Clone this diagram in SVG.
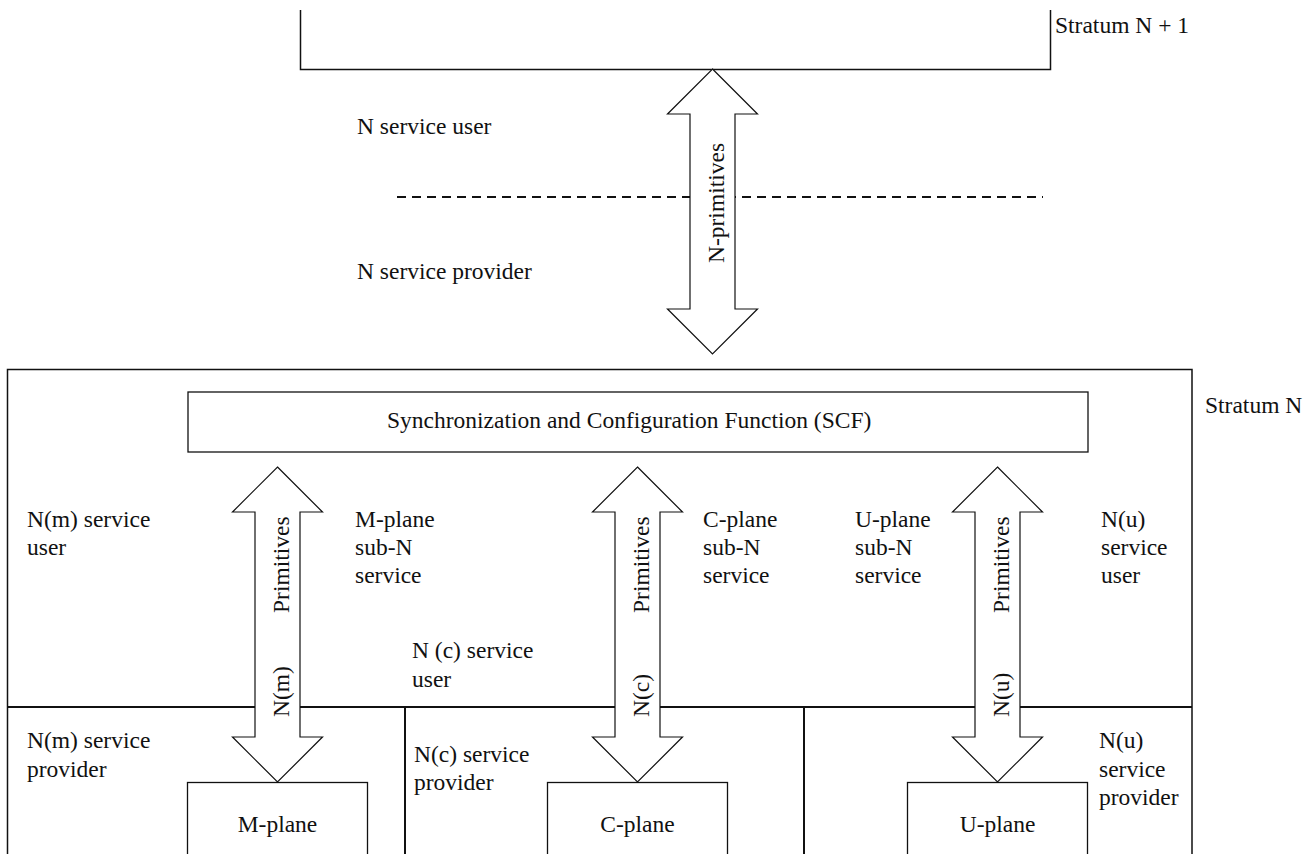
<svg xmlns="http://www.w3.org/2000/svg" width="1314" height="854" viewBox="0 0 1314 854">
  <style>
    text { font-family: "Liberation Serif", Tinos, "Times New Roman", Times, serif; font-size: 23.5px; fill: #111; }
    .box { fill: #fff; stroke: #111; stroke-width: 1.3; }
    .frame { fill: none; stroke: #111; stroke-width: 1.5; }
    .divider { fill: none; stroke: #111; stroke-width: 2; }
    .dash { fill: none; stroke: #111; stroke-width: 2; stroke-dasharray: 9 6; }
    .arrow { fill: #fff; stroke: #111; stroke-width: 1.2; stroke-linejoin: miter; }
    .mid { text-anchor: middle; }
  </style>

  <!-- Stratum N + 1 -->
  <g id="stratum-n-plus-1">
    <path class="frame" d="M300.5,10 V69.5 H1050.5 V10"/>
    <text x="1055" y="33">Stratum N + 1</text>
    <text x="357" y="134">N service user</text>
    <text x="357" y="279">N service provider</text>
    <line class="dash" x1="397" y1="197" x2="1043" y2="197"/>
  </g>

  <!-- Stratum N frame and its internal partitions -->
  <g id="stratum-n">
    <path class="frame" d="M7.5,860 V369.5 H1192 V860"/>
    <text x="1205" y="413">Stratum N</text>
    <line class="divider" x1="7.5" y1="707" x2="1192" y2="707"/>
    <line class="divider" x1="405" y1="707" x2="405" y2="860"/>
    <line class="divider" x1="804" y1="707" x2="804" y2="860"/>
    <text x="27" y="527">N(m) service</text>
    <text x="27" y="555">user</text>
    <text x="27" y="748">N(m) service</text>
    <text x="27" y="777">provider</text>
    <text x="412" y="658">N (c) service</text>
    <text x="412" y="687">user</text>
    <text x="414" y="762">N(c) service</text>
    <text x="414" y="790">provider</text>
    <text x="1101" y="527">N(u)</text>
    <text x="1101" y="555">service</text>
    <text x="1101" y="583">user</text>
    <text x="1099" y="748">N(u)</text>
    <text x="1099" y="777">service</text>
    <text x="1099" y="805">provider</text>
    <text x="355" y="527">M-plane</text>
    <text x="355" y="555">sub-N</text>
    <text x="355" y="583">service</text>
    <text x="703" y="527">C-plane</text>
    <text x="703" y="555">sub-N</text>
    <text x="703" y="583">service</text>
    <text x="855" y="527">U-plane</text>
    <text x="855" y="555">sub-N</text>
    <text x="855" y="583">service</text>
  </g>

  <!-- Primitive exchanges (double-headed block arrows) -->
  <g id="connectors">
    <path class="arrow" d="M712.5,69 L757.5,114 H735 V309 H757.5 L712.5,354 L667.5,309 H690 V114 H667.5 Z"/>
    <text transform="translate(724,263) rotate(-90)">N-primitives</text>

    <path class="arrow" d="M277.5,467 L322.5,512 H300 V737 H322.5 L277.5,782 L232.5,737 H255 V512 H232.5 Z"/>
    <text transform="translate(289,613) rotate(-90)">Primitives</text>
    <text transform="translate(289,717) rotate(-90)">N(m)</text>

    <path class="arrow" d="M637.5,467 L682.5,512 H660 V737 H682.5 L637.5,782 L592.5,737 H615 V512 H592.5 Z"/>
    <text transform="translate(649,613) rotate(-90)">Primitives</text>
    <text transform="translate(649,717) rotate(-90)">N(c)</text>

    <path class="arrow" d="M997.5,467 L1042.5,512 H1020 V737 H1042.5 L997.5,782 L952.5,737 H975 V512 H952.5 Z"/>
    <text transform="translate(1009,613) rotate(-90)">Primitives</text>
    <text transform="translate(1009,717) rotate(-90)">N(u)</text>
  </g>

  <!-- Synchronization and Configuration Function -->
  <g id="scf">
    <rect class="box" x="188" y="392" width="900" height="60"/>
    <text x="387" y="428">Synchronization and Configuration Function (SCF)</text>
  </g>

  <!-- Planes -->
  <g id="m-plane">
    <rect class="box" x="187.5" y="782.5" width="180" height="80"/>
    <text class="mid" x="277.5" y="832">M-plane</text>
  </g>
  <g id="c-plane">
    <rect class="box" x="547.5" y="782.5" width="180" height="80"/>
    <text class="mid" x="637.5" y="832">C-plane</text>
  </g>
  <g id="u-plane">
    <rect class="box" x="907.5" y="782.5" width="180" height="80"/>
    <text class="mid" x="997.5" y="832">U-plane</text>
  </g>
</svg>
